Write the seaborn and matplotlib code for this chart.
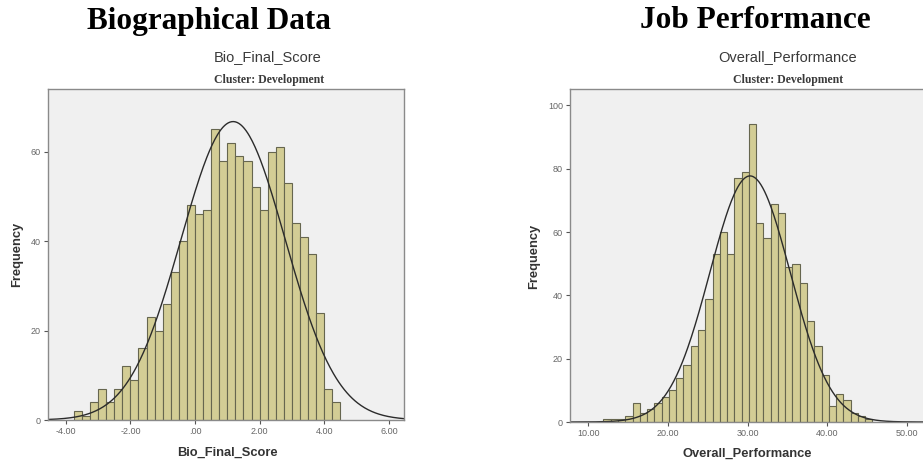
import numpy as np
import pandas as pd
import matplotlib
matplotlib.use("Agg")
import matplotlib.pyplot as plt
import seaborn as sns

# ---------------- data ----------------
bio_first_edge = -3.75
bio_bin_width = 0.25
bio_counts = [2, 1, 4, 7, 4, 7, 12, 9, 16, 23, 20, 26, 33, 40, 48, 46, 47,
              65, 58, 62, 59, 58, 52, 47, 60, 61, 53, 44, 41, 37, 24, 7, 4]
bio_curve_mean = 1.18
bio_curve_sd = 1.61
bio_xticks = [-4, -2, 0, 2, 4, 6]
bio_xticklabels = ["-4.00", "-2.00", ".00", "2.00", "4.00", "6.00"]
bio_yticks = [0, 20, 40, 60]

perf_first_edge = 11.9
perf_bin_width = 0.912
perf_counts = [1, 1, 1, 2, 6, 3, 4, 6, 8, 10, 14, 18, 24, 29, 39, 53, 60, 53,
               77, 79, 94, 63, 58, 69, 66, 49, 50, 44, 32, 24, 15, 5, 9, 7, 3, 2, 1]
perf_curve_mean = 30.29
perf_curve_sd = 5.05
perf_xticks = [10, 20, 30, 40, 50]
perf_xticklabels = ["10.00", "20.00", "30.00", "40.00", "50.00"]
perf_yticks = [0, 20, 40, 60, 80, 100]

# ---------------- style ----------------
sns.set_style("white")
plt.rcParams["font.family"] = ["Liberation Sans", "DejaVu Sans"]

BAR_FILL = "#D3CD95"
BAR_EDGE = "#66664F"
BG = "#F0F0F0"
SPINE = "#8A8A8A"

fig = plt.figure(figsize=(9.23, 4.69), dpi=100)


def draw(ax, first_edge, width, counts, mu, sd, xlim, ylim, xticks, xticklabels, yticks):
    counts = np.asarray(counts, dtype=float)
    n = len(counts)
    edges = (first_edge + width * np.arange(n + 1)).tolist()
    centers = [(a + b) / 2 for a, b in zip(edges[:-1], edges[1:])]
    df = pd.DataFrame({"x": centers, "w": counts})
    sns.histplot(data=df, x="x", weights="w", bins=edges, ax=ax,
                 color=BAR_FILL, edgecolor=BAR_EDGE, linewidth=0.8, alpha=1.0)
    total = counts.sum()
    xs = np.linspace(xlim[0], xlim[1], 400)
    ys = total * width * np.exp(-0.5 * ((xs - mu) / sd) ** 2) / (sd * np.sqrt(2 * np.pi))
    sns.lineplot(x=xs, y=ys, ax=ax, color="#2b2b2b", linewidth=1.0)
    ax.set_xlim(*xlim)
    ax.set_ylim(*ylim)
    ax.set_facecolor(BG)
    for s in ax.spines.values():
        s.set_color(SPINE)
        s.set_linewidth(1.0)
        s.set_visible(True)
    ax.set_xticks(xticks)
    ax.set_xticklabels(xticklabels)
    ax.set_yticks(yticks)
    ax.tick_params(axis="both", direction="out", length=3, width=0.8, color="#555555",
                   labelsize=6.5, labelcolor="#666666", pad=2,
                   bottom=True, left=True, top=False, right=False)
    ax.set_xlabel("")
    ax.set_ylabel("")


# left panel
ax1 = fig.add_axes([48 / 923, 49 / 469, 356 / 923, 331 / 469])
draw(ax1, bio_first_edge, bio_bin_width, bio_counts, bio_curve_mean, bio_curve_sd,
     (-4.55, 6.47), (0, 74), bio_xticks, bio_xticklabels, bio_yticks)

# right panel (extends beyond the right edge, as in the reference)
ax2 = fig.add_axes([570 / 923, 47 / 469, 370 / 923, 333 / 469])
draw(ax2, perf_first_edge, perf_bin_width, perf_counts, perf_curve_mean, perf_curve_sd,
     (7.7, 7.7 + 370 / 7.97), (0, 105.2), perf_xticks, perf_xticklabels, perf_yticks)


def ftext(x, y, s, **kw):
    fig.text(x / 923, 1 - y / 469, s, ha="center", va="center", **kw)


SERIF = ["Liberation Serif", "DejaVu Serif"]

# big titles
ftext(209, 21, "Biographical Data", fontsize=22.5, fontweight="bold",
      family=SERIF, color="black")
ftext(755, 21, "Job Performance", fontsize=22.5, fontweight="bold",
      family=SERIF, color="black")

# chart titles
ftext(268, 57, "Bio_Final_Score", fontsize=10.5, color="#3a3a3a")
ftext(269, 80, "Cluster: Development", fontsize=8.5, fontweight="bold",
      family=SERIF, color="#3a3a3a")
ftext(788, 57, "Overall_Performance", fontsize=10.5, color="#3a3a3a")
ftext(788, 80, "Cluster: Development", fontsize=8.5, fontweight="bold",
      family=SERIF, color="#3a3a3a")

# axis labels
ftext(227, 453, "Bio_Final_Score", fontsize=9.3, fontweight="bold", color="#333333")
ftext(747, 454, "Overall_Performance", fontsize=9.3, fontweight="bold", color="#333333")
ftext(17, 254, "Frequency", fontsize=9.3, fontweight="bold", color="#333333", rotation=90)
ftext(534, 256, "Frequency", fontsize=9.3, fontweight="bold", color="#333333", rotation=90)

fig.savefig("out.png", dpi=100)
